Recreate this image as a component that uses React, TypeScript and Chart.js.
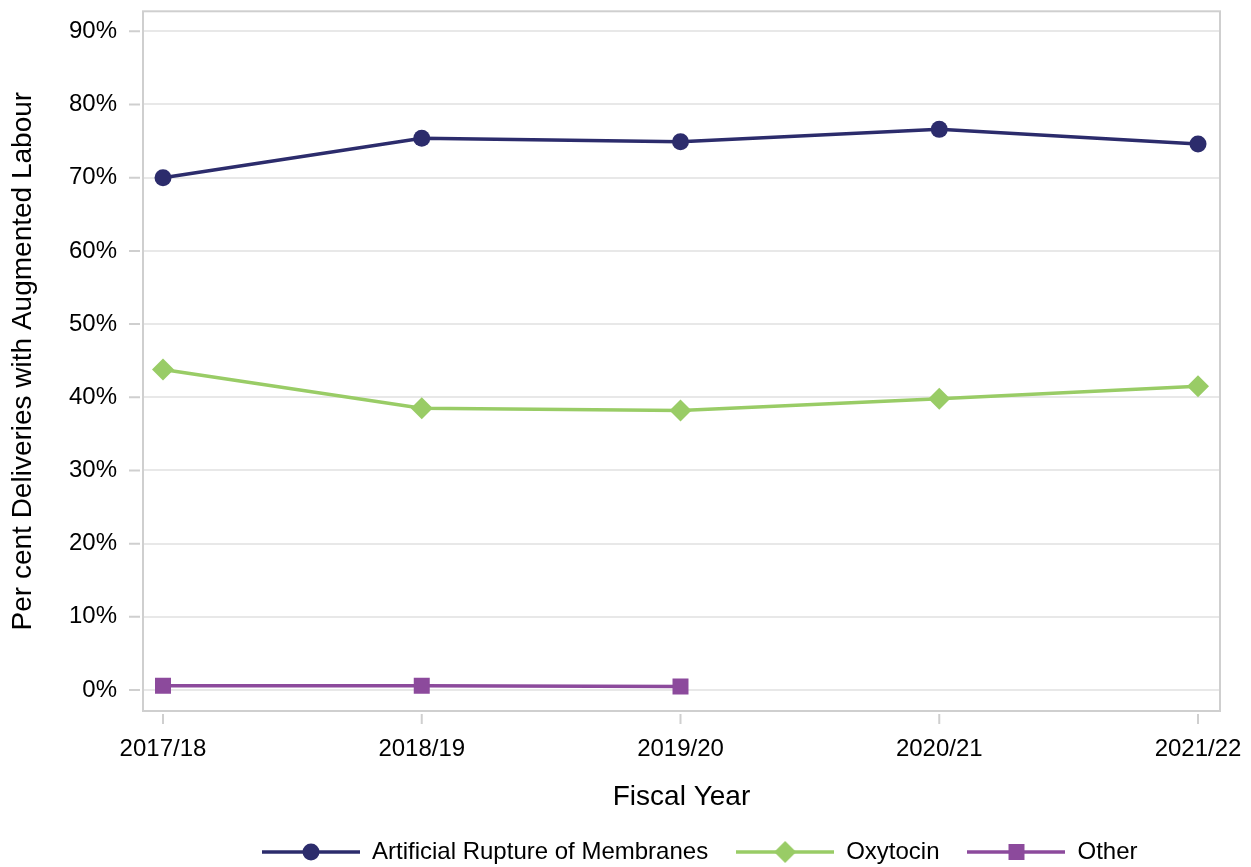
import React, { useEffect, useRef } from "react";
import { Chart, registerables } from "chart.js";

Chart.register(...registerables);

const categories = ["2017/18", "2018/19", "2019/20", "2020/21", "2021/22"];
const armValues = [70.0, 75.4, 74.9, 76.6, 74.6];
const oxytocinValues = [43.8, 38.5, 38.2, 39.8, 41.5];
const otherValues: (number | null)[] = [0.6, 0.6, 0.5, null, null];
const yTickValues = [0, 10, 20, 30, 40, 50, 60, 70, 80, 90];
const seriesNames = ["Artificial Rupture of Membranes", "Oxytocin", "Other"];

const COLORS = ["#2c2c6c", "#99cc66", "#8c4a9c"];
const STYLES = ["circle", "rectRot", "rect"];
const RADII = [8.5, 11, 11.3];
const FONT = '"Liberation Sans", Arial, sans-serif';

function legendSymbol(color: string, style: string): HTMLCanvasElement {
  const c = document.createElement("canvas");
  c.width = 98;
  c.height = 26;
  const ctx = c.getContext("2d")!;
  ctx.strokeStyle = color;
  ctx.lineWidth = 3.5;
  ctx.beginPath();
  ctx.moveTo(0, 13);
  ctx.lineTo(98, 13);
  ctx.stroke();
  ctx.fillStyle = color;
  ctx.beginPath();
  if (style === "circle") {
    ctx.arc(49, 13, 8.5, 0, Math.PI * 2);
  } else if (style === "rectRot") {
    ctx.moveTo(49, 2);
    ctx.lineTo(60, 13);
    ctx.lineTo(49, 24);
    ctx.lineTo(38, 13);
    ctx.closePath();
  } else {
    ctx.rect(41, 5, 16, 16);
  }
  ctx.fill();
  return c;
}

const toPoints = (vals: (number | null)[]) =>
  vals.map((v, i) => ({ x: i, y: v }));

export default function App() {
  const ref = useRef<HTMLCanvasElement>(null);

  useEffect(() => {
    if (!ref.current) return;
    const symbols = COLORS.map((c, i) => legendSymbol(c, STYLES[i]));
    const allValues = [armValues, oxytocinValues, otherValues];

    const framePlugin = {
      id: "frameAndTicks",
      beforeDatasetsDraw(chart: any) {
        const { ctx, chartArea } = chart;
        ctx.save();
        ctx.strokeStyle = "#cfcfcf";
        ctx.lineWidth = 2;
        ctx.strokeRect(
          chartArea.left,
          chartArea.top,
          chartArea.right - chartArea.left,
          chartArea.bottom - chartArea.top
        );
        const ys = chart.scales.y;
        const xs = chart.scales.x;
        ctx.beginPath();
        yTickValues.forEach((v) => {
          const py = ys.getPixelForValue(v);
          ctx.moveTo(chartArea.left - 14, py);
          ctx.lineTo(chartArea.left - 3, py);
        });
        categories.forEach((_, i) => {
          const px = xs.getPixelForValue(i);
          ctx.moveTo(px, chartArea.bottom + 3);
          ctx.lineTo(px, chartArea.bottom + 13);
        });
        ctx.stroke();
        ctx.restore();
      },
    };

    const legendShift = {
      id: "legendShift",
      afterLayout(chart: any) {
        const lg = chart.legend;
        if (!lg) return;
        const pad = lg.options.labels.padding;
        const h = lg.height;
        lg.left = 262 - pad;
        lg.right = chart.width;
        lg.top = 852 - 12 - pad;
        lg.bottom = lg.top + h;
      },
    };

    const chart = new Chart(ref.current, {
      type: "line",
      data: {
        datasets: seriesNames.map((name, i) => ({
          label: name,
          data: toPoints(allValues[i]) as any,
          borderColor: COLORS[i],
          backgroundColor: COLORS[i],
          borderWidth: 3.5,
          pointStyle: STYLES[i] as any,
          pointRadius: RADII[i],
          pointBorderWidth: 0,
          pointBackgroundColor: COLORS[i],
          spanGaps: false,
          tension: 0,
        })),
      },
      options: {
        animation: false,
        responsive: false,
        devicePixelRatio: 1,
        layout: { padding: { top: 10, right: 31, left: 0, bottom: 0 } },
        plugins: {
          tooltip: { enabled: false },
          legend: {
            display: true,
            position: "bottom",
            align: "start",
            labels: {
              usePointStyle: true,
              pointStyleWidth: 98,
              padding: 28,
              color: "#000",
              font: { family: FONT, size: 24 },
              generateLabels: () =>
                seriesNames.map((name, i) => ({
                  text: name,
                  pointStyle: symbols[i] as any,
                  fillStyle: COLORS[i],
                  strokeStyle: COLORS[i],
                  lineWidth: 0,
                  hidden: false,
                  datasetIndex: i,
                })),
            },
          },
        },
        scales: {
          x: {
            type: "linear",
            min: -0.0773,
            max: 4.085,
            afterFit: (s: any) => {
              s.height = 94;
              s.paddingLeft = 0;
              s.paddingRight = 0;
              s.paddingTop = 0;
              s.paddingBottom = 0;
            },
            afterBuildTicks: (s: any) => {
              s.ticks = categories.map((_, i) => ({ value: i }));
            },
            grid: { display: false, drawTicks: false },
            border: { display: false },
            ticks: {
              padding: 24,
              color: "#000",
              font: { family: FONT, size: 24 },
              maxRotation: 0,
              autoSkip: false,
              callback: (v: any) => categories[Math.round(Number(v))] ?? "",
            },
            title: {
              display: true,
              text: "Fiscal Year",
              color: "#000",
              font: { family: FONT, size: 28 },
              padding: { top: 0, bottom: -9 },
            },
          },
          y: {
            type: "linear",
            min: -2.86,
            max: 92.73,
            afterFit: (s: any) => {
              s.width = 143;
              s.paddingLeft = 0;
              s.paddingRight = 0;
              s.paddingTop = 0;
              s.paddingBottom = 0;
            },
            afterBuildTicks: (s: any) => {
              s.ticks = yTickValues.map((v) => ({ value: v }));
            },
            grid: { color: "#e8e8e8", lineWidth: 2, drawTicks: false },
            border: { display: false },
            ticks: {
              padding: 26,
              color: "#000",
              font: { family: FONT, size: 24 },
              callback: (v: any) => `${v}%`,
            },
            title: {
              display: true,
              text: "Per cent Deliveries with Augmented Labour",
              color: "#000",
              font: { family: FONT, size: 28 },
              padding: { top: 6, bottom: 0 },
            },
          },
        },
      },
      plugins: [framePlugin, legendShift],
    });
    return () => chart.destroy();
  }, []);

  return (
    <div style={{ position: "absolute", left: 0, top: 0, width: 1251, height: 867, background: "#fff" }}>
      <canvas ref={ref} width={1251} height={867} style={{ display: "block" }} />
    </div>
  );
}
